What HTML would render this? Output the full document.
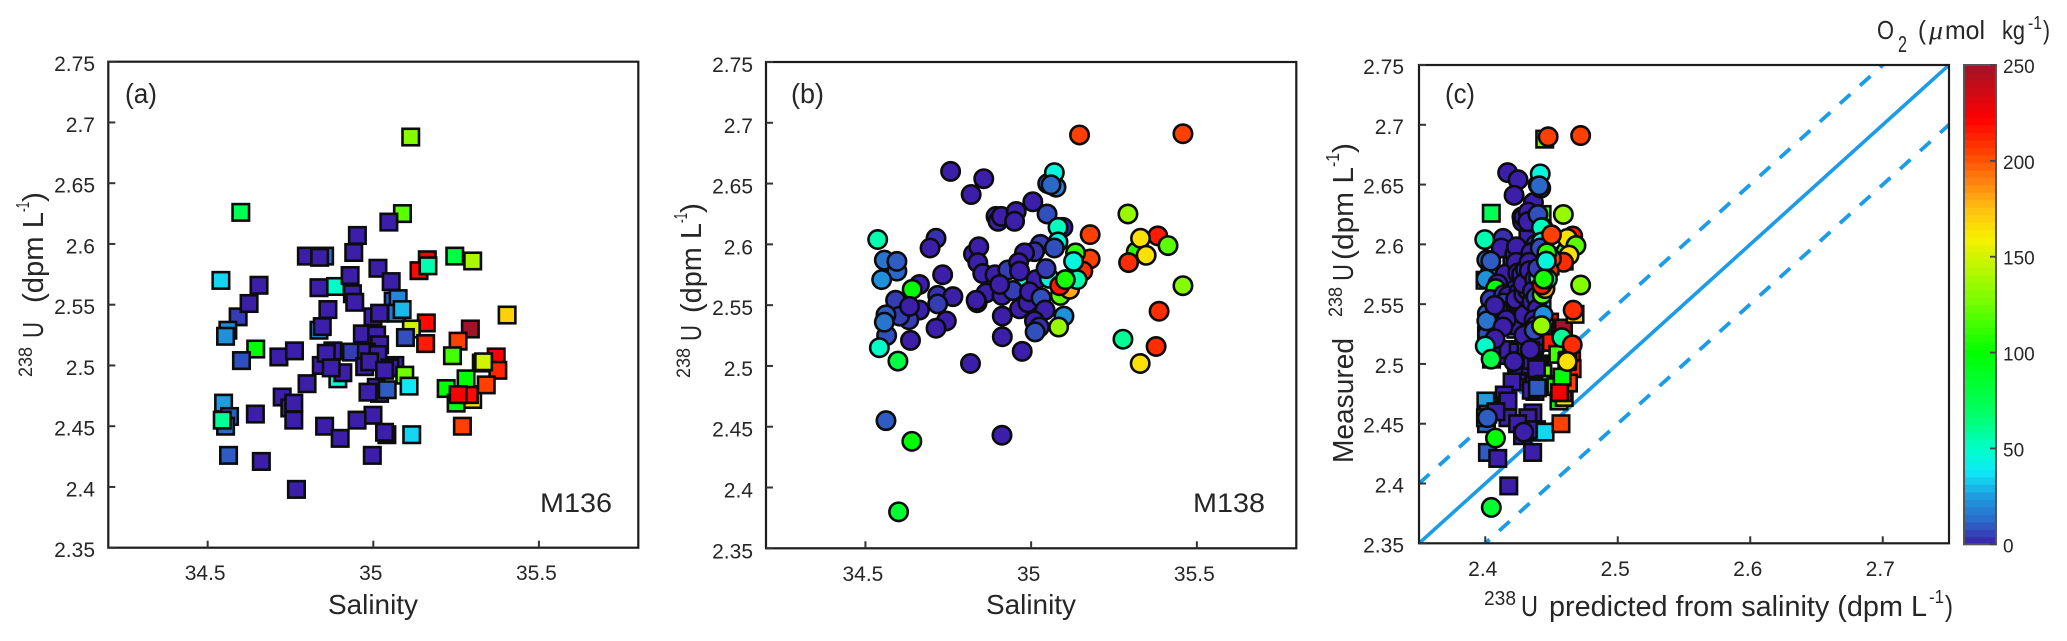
<!DOCTYPE html>
<html lang="en">
<head>
<meta charset="utf-8">
<title>238U versus salinity and oxygen</title>
<style>
html,body{margin:0;padding:0;background:#fff;width:2067px;height:641px;overflow:hidden}
svg{display:block}
text{font-family:"Liberation Sans",sans-serif;fill:#262626}
</style>
</head>
<body>
<svg id="chart" xmlns="http://www.w3.org/2000/svg" width="2067" height="641" viewBox="0 0 2067 641">
  <defs>
    <clipPath id="panel-c-clip"><rect x="1419" y="65" width="530" height="478.3"></rect></clipPath>
  </defs>
  <rect x="0" y="0" width="2067" height="641" fill="#fff"></rect>
  <g id="panel-a"></g>
  <g id="panel-b"></g>
  <g id="panel-c"></g>
  <g id="colorbar"></g>

  <text x="125" y="103" font-size="28" textLength="32" lengthAdjust="spacingAndGlyphs">(a)</text>
  <text x="791" y="103" font-size="28" textLength="33" lengthAdjust="spacingAndGlyphs">(b)</text>
  <text x="1445" y="103" font-size="28" textLength="30" lengthAdjust="spacingAndGlyphs">(c)</text>
  <text x="540" y="512" font-size="27" textLength="72" lengthAdjust="spacingAndGlyphs">M136</text>
  <text x="1193" y="512" font-size="27" textLength="72" lengthAdjust="spacingAndGlyphs">M138</text>

  <text x="328" y="614" font-size="28" textLength="90" lengthAdjust="spacingAndGlyphs">Salinity</text>
  <text x="986" y="614" font-size="28" textLength="90" lengthAdjust="spacingAndGlyphs">Salinity</text>

  <g transform="translate(43,377) rotate(-90)">
    <text x="0" y="-11" font-size="19" textLength="30" lengthAdjust="spacingAndGlyphs">238</text>
    <text x="39" y="0" font-size="29" textLength="16" lengthAdjust="spacingAndGlyphs">U</text>
    <text x="74" y="0" font-size="29" textLength="91" lengthAdjust="spacingAndGlyphs">(dpm L</text>
    <text x="165" y="-14" font-size="18" textLength="10" lengthAdjust="spacingAndGlyphs">-1</text>
    <text x="175" y="0" font-size="29" textLength="10" lengthAdjust="spacingAndGlyphs">)</text>
  </g>
  <g transform="translate(701,378) rotate(-90)">
    <text x="0" y="-11" font-size="19" textLength="30" lengthAdjust="spacingAndGlyphs">238</text>
    <text x="37" y="0" font-size="29" textLength="16" lengthAdjust="spacingAndGlyphs">U</text>
    <text x="65" y="0" font-size="29" textLength="90" lengthAdjust="spacingAndGlyphs">(dpm L</text>
    <text x="155" y="-14" font-size="18" textLength="10" lengthAdjust="spacingAndGlyphs">-1</text>
    <text x="165" y="0" font-size="29" textLength="10" lengthAdjust="spacingAndGlyphs">)</text>
  </g>
  <g transform="translate(1353,463) rotate(-90)">
    <text x="0" y="0" font-size="29" textLength="125" lengthAdjust="spacingAndGlyphs">Measured</text>
    <text x="146" y="-11" font-size="19" textLength="30" lengthAdjust="spacingAndGlyphs">238</text>
    <text x="182" y="0" font-size="29" textLength="17" lengthAdjust="spacingAndGlyphs">U</text>
    <text x="203" y="0" font-size="29" textLength="93" lengthAdjust="spacingAndGlyphs">(dpm L</text>
    <text x="296" y="-14" font-size="18" textLength="14" lengthAdjust="spacingAndGlyphs">-1</text>
    <text x="310" y="0" font-size="29" textLength="10" lengthAdjust="spacingAndGlyphs">)</text>
  </g>
  <g>
    <text x="1484" y="605" font-size="20" textLength="32" lengthAdjust="spacingAndGlyphs">238</text>
    <text x="1521" y="616" font-size="29" textLength="17" lengthAdjust="spacingAndGlyphs">U</text>
    <text x="1549" y="616" font-size="29" textLength="378" lengthAdjust="spacingAndGlyphs">predicted from salinity (dpm L</text>
    <text x="1929" y="603" font-size="18" textLength="15" lengthAdjust="spacingAndGlyphs">-1</text>
    <text x="1945" y="616" font-size="29" textLength="8" lengthAdjust="spacingAndGlyphs">)</text>
  </g>
  <g>
    <text x="1877" y="39" font-size="26" textLength="17" lengthAdjust="spacingAndGlyphs">O</text>
    <text x="1898" y="52" font-size="23" textLength="9" lengthAdjust="spacingAndGlyphs">2</text>
    <text x="1918" y="39" font-size="26" textLength="8" lengthAdjust="spacingAndGlyphs">(</text>
    <text x="1929" y="39" font-size="26" font-style="italic" style="font-family:'Liberation Serif',serif" textLength="14" lengthAdjust="spacingAndGlyphs">μ</text>
    <text x="1945" y="39" font-size="26" textLength="40" lengthAdjust="spacingAndGlyphs">mol</text>
    <text x="2002" y="39" font-size="26" textLength="23" lengthAdjust="spacingAndGlyphs">kg</text>
    <text x="2028" y="29" font-size="18" textLength="14" lengthAdjust="spacingAndGlyphs">-1</text>
    <text x="2043" y="39" font-size="26" textLength="7" lengthAdjust="spacingAndGlyphs">)</text>
  </g>
</svg>

<script>
// Shared tick values and labels
const uraniumTicks = [2.35, 2.4, 2.45, 2.5, 2.55, 2.6, 2.65, 2.7, 2.75];
const uraniumTickLabels = ['2.35', '2.4', '2.45', '2.5', '2.55', '2.6', '2.65', '2.7', '2.75'];
const salinityTicks = [34.5, 35, 35.5];
const salinityTickLabels = ['34.5', '35', '35.5'];
const predictedTicks = [2.4, 2.5, 2.6, 2.7];
const predictedTickLabels = ['2.4', '2.5', '2.6', '2.7'];
const oxygenTicks = [0, 50, 100, 150, 200, 250];
const oxygenTickLabels = ['0', '50', '100', '150', '200', '250'];

// Cruise M136 (squares)
const m136Salinity = [
34.952,34.941,34.853,34.798,34.838,35.088,35.047,34.6,35.113,35.163,
35.138,35.165,35.246,35.30,34.54,34.655,34.592,34.625,34.886,34.836,
34.93,35.014,35.06,35.075,35.054,34.937,34.944,34.863,35.07,35.087,
34.999,35.019,35.16,35.115,35.293,35.256,35.097,35.158,35.239,35.371,
35.376,35.326,35.333,34.645,34.602,34.715,34.762,34.561,34.554,34.836,
34.846,34.967,35.01,35.019,34.893,34.843,34.878,34.858,34.934,34.908,
34.873,34.979,35.014,34.974,34.989,35.065,35.05,35.095,35.034,35.108,
35.009,35.019,34.984,35.042,34.80,34.725,34.748,34.76,34.76,35.22,
35.25,35.30,35.29,35.341,35.28,35.256,34.548,34.566,34.554,34.544,
34.644,34.563,34.662,34.768,34.997,34.999,34.951,34.853,34.90,35.041,
35.034,35.116,35.269,35.404];
const m136Uranium = [
2.607,2.593,2.59,2.59,2.589,2.625,2.618,2.626,2.688,2.587,
2.578,2.582,2.59,2.586,2.57,2.566,2.54,2.551,2.565,2.564,
2.574,2.58,2.553,2.555,2.569,2.559,2.552,2.546,2.543,2.546,
2.54,2.543,2.535,2.53,2.53,2.52,2.523,2.518,2.508,2.507,
2.496,2.502,2.503,2.5135,2.504,2.507,2.512,2.529,2.524,2.529,
2.532,2.526,2.525,2.517,2.489,2.5,2.512,2.51,2.511,2.494,
2.498,2.511,2.509,2.499,2.503,2.5,2.498,2.492,2.496,2.483,
2.482,2.477,2.478,2.48,2.485,2.474,2.465,2.469,2.455,2.481,
2.469,2.472,2.476,2.484,2.489,2.476,2.469,2.458,2.45,2.455,
2.46,2.426,2.421,2.398,2.426,2.459,2.455,2.45,2.44,2.443,
2.445,2.443,2.45,2.5415];
const m136Oxygen = [
0,0,15,0,0,120,0,75,130,225,
220,55,80,140,35,0,5,0,50,0,
0,0,10,20,0,0,0,0,15,30,
0,0,220,150,250,205,8,215,115,225,
212,110,150,100,8,0,0,20,22,22,
0,0,0,0,48,0,0,0,5,0,
0,0,0,0,0,0,0,125,0,38,
0,0,0,10,0,0,0,0,0,100,
95,165,220,205,100,225,25,10,12,60,
0,10,0,0,0,0,0,0,0,0,
0,35,205,170];

// Cruise M138 (circles)
const m138Salinity = [
34.757,34.857,34.819,34.894,34.90,34.91,35.005,34.955,34.95,35.048,
35.146,35.458,35.292,35.382,35.317,35.33,35.413,35.347,35.294,35.458,
35.386,35.277,35.377,35.329,34.562,34.64,34.60,34.912,34.537,34.713,
34.695,34.557,34.595,34.595,34.549,34.733,34.663,34.641,34.591,34.718,
34.764,34.718,34.663,34.631,34.603,34.562,34.564,34.557,34.744,34.713,
34.636,34.542,34.598,34.633,34.826,34.842,34.839,34.854,34.891,34.93,
34.985,34.864,34.837,34.834,34.912,34.945,34.905,34.965,34.913,34.913,
34.973,34.817,35.028,35.01,34.98,34.962,34.965,35.015,34.99,34.995,
35.03,35.042,35.01,35.025,35.012,35.099,35.083,35.096,35.081,35.075,
35.05,35.07,35.06,35.081,35.07,35.055,35.045,35.178,35.178,35.134,
35.156,35.128,35.088,35.116,35.086,35.139,35.103];
const m138Uranium = [
2.66,2.654,2.641,2.623,2.619,2.623,2.635,2.627,2.619,2.625,
2.69,2.691,2.625,2.607,2.594,2.605,2.599,2.591,2.585,2.566,
2.545,2.522,2.516,2.502,2.455,2.438,2.38,2.443,2.604,2.605,
2.597,2.587,2.578,2.586,2.571,2.575,2.567,2.563,2.554,2.558,
2.557,2.551,2.546,2.538,2.541,2.542,2.525,2.536,2.537,2.531,
2.521,2.515,2.504,2.549,2.592,2.598,2.585,2.576,2.575,2.579,
2.568,2.56,2.552,2.554,2.558,2.562,2.567,2.547,2.541,2.524,
2.512,2.502,2.6,2.594,2.593,2.585,2.578,2.571,2.552,2.561,
2.556,2.546,2.537,2.532,2.528,2.541,2.532,2.614,2.614,2.647,
2.65,2.659,2.649,2.602,2.597,2.572,2.58,2.608,2.588,2.593,
2.578,2.586,2.558,2.563,2.566,2.571,2.571];
const m138Oxygen = [
0,0,0,0,0,0,0,0,0,8,
205,205,135,215,110,165,120,165,210,130,
210,60,210,165,10,100,85,0,55,3,
0,15,12,10,22,0,0,100,5,3,
0,5,0,5,5,10,8,15,0,0,
0,50,80,0,0,0,0,0,0,5,
45,0,0,0,0,5,0,0,0,0,
0,0,5,3,0,0,0,0,0,0,
8,0,0,3,8,22,135,0,52,20,
10,45,12,45,8,45,5,205,205,110,
210,45,120,180,215,55,105];

// Salinity-to-uranium relation behind panel (c), plus the 1:1 line and its offsets
const predictedSlope = 0.0786;
const predictedIntercept = -0.315;
const referenceOffsets = [0, 0.05, -0.05];

// Oxygen colour scale
const oxygenStops = [0, 12, 25, 38, 50, 70, 100, 125, 160, 175, 190, 205, 222, 250];
const oxygenColors = ['#3b1fa8', '#2c68c8', '#1e9ce0', '#10e8f8', '#00ffc8', '#00ff60', '#00ff00', '#70ff00', '#f8f000', '#ffc010', '#ff8010', '#ff4000', '#ff0000', '#a01428'];

const SVG_NS = 'http://www.w3.org/2000/svg';

function make(tag, parent, props) {
  const node = document.createElementNS(SVG_NS, tag);
  for (const key in props) node.setAttribute(key, props[key]);
  parent.appendChild(node);
  return node;
}

function hexToRgb(hex) {
  return [1, 3, 5].map(function (i) { return parseInt(hex.substr(i, 2), 16); });
}

function oxygenColor(value) {
  const v = Math.max(oxygenStops[0], Math.min(oxygenStops[oxygenStops.length - 1], value));
  for (let i = 1; i < oxygenStops.length; i++) {
    if (v <= oxygenStops[i]) {
      const t = (v - oxygenStops[i - 1]) / (oxygenStops[i] - oxygenStops[i - 1]);
      const a = hexToRgb(oxygenColors[i - 1]);
      const b = hexToRgb(oxygenColors[i]);
      return 'rgb(' + a.map(function (c, k) { return Math.round(c + (b[k] - c) * t); }).join(',') + ')';
    }
  }
  return oxygenColors[oxygenColors.length - 1];
}

function makeAxes(left, right, top, bottom, xMin, xMax, yMin, yMax) {
  return {
    left: left, right: right, top: top, bottom: bottom,
    x: function (v) { return left + (v - xMin) / (xMax - xMin) * (right - left); },
    y: function (v) { return bottom - (v - yMin) / (yMax - yMin) * (bottom - top); }
  };
}

function drawFrame(group, axes, xTicks, xLabels, yTicks, yLabels, labelRight, xLabelBaseline, yLabelShift) {
  const frame = make('rect', group, {
    x: axes.left, y: axes.top, width: axes.right - axes.left, height: axes.bottom - axes.top,
    fill: 'none', stroke: '#1c1c1c', 'stroke-width': 2.2
  });
  
  

  yTicks.forEach(function (value, i) {
    const tick = make('line', group, {
      x1: axes.left, x2: axes.left + 7, y1: axes.y(value), y2: axes.y(value),
      stroke: '#333', 'stroke-width': 2
    });
    
    
    const label = make('text', group, {
      x: labelRight, y: axes.y(value) + yLabelShift, 'font-size': 21, 'text-anchor': 'end'
    });
    label.textContent = yLabels[i];
    
    
  });

  xTicks.forEach(function (value, i) {
    const tick = make('line', group, {
      x1: axes.x(value), x2: axes.x(value), y1: axes.bottom, y2: axes.bottom - 7,
      stroke: '#333', 'stroke-width': 2
    });
    
    
    const label = make('text', group, {
      x: axes.x(value) - 2.5, y: xLabelBaseline, 'font-size': 21, 'text-anchor': 'middle'
    });
    label.textContent = xLabels[i];
    
    
  });
}

function drawSquare(group, cx, cy, oxygen) {
  const side = 16.5;
  const mark = make('rect', group, {
    x: cx - side / 2, y: cy - side / 2, width: side, height: side,
    fill: oxygenColor(oxygen), stroke: '#0c0c0c', 'stroke-width': 2.6
  });
  
  
}

function drawCircle(group, cx, cy, oxygen) {
  const mark = make('circle', group, {
    cx: cx, cy: cy, r: 9.2, fill: oxygenColor(oxygen), stroke: '#0c0c0c', 'stroke-width': 2.6
  });
  
  
}

function predictedFromSalinity(salinity) {
  return predictedSlope * salinity + predictedIntercept;
}

// Panel (a)
const panelA = document.getElementById('panel-a');
const axesA = makeAxes(108.3, 638.3, 61.7, 547.7, 34.2, 35.8, 2.35, 2.75);
drawFrame(panelA, axesA, salinityTicks, salinityTickLabels, uraniumTicks, uraniumTickLabels, 95, 580, 9.5);
m136Salinity.forEach(function (s, i) {
  drawSquare(panelA, axesA.x(s), axesA.y(m136Uranium[i]), m136Oxygen[i]);
});

// Panel (b)
const panelB = document.getElementById('panel-b');
const axesB = makeAxes(766, 1296.3, 62, 548.3, 34.2, 35.8, 2.35, 2.75);
drawFrame(panelB, axesB, salinityTicks, salinityTickLabels, uraniumTicks, uraniumTickLabels, 753, 581, 10);
m138Salinity.forEach(function (s, i) {
  drawCircle(panelB, axesB.x(s), axesB.y(m138Uranium[i]), m138Oxygen[i]);
});

// Panel (c)
const panelC = document.getElementById('panel-c');
const axesC = makeAxes(1419, 1949, 65, 543.3, 2.35, 2.75, 2.35, 2.75);
const referenceGroup = make('g', panelC, { 'clip-path': 'url(#panel-c-clip)' });


referenceOffsets.forEach(function (offset) {
  const line = make('line', referenceGroup, {
    x1: axesC.x(2.35), y1: axesC.y(2.35 + offset),
    x2: axesC.x(2.75), y2: axesC.y(2.75 + offset),
    stroke: '#1b9be8', 'stroke-width': offset === 0 ? 3.6 : 3.8
  });
  if (offset !== 0) line.setAttribute('stroke-dasharray', '14 13');
  
  
});
drawFrame(panelC, axesC, predictedTicks, predictedTickLabels, uraniumTicks, uraniumTickLabels, 1404, 576, 9);
m136Salinity.forEach(function (s, i) {
  drawSquare(panelC, axesC.x(predictedFromSalinity(s)), axesC.y(m136Uranium[i]), m136Oxygen[i]);
});
m138Salinity.forEach(function (s, i) {
  drawCircle(panelC, axesC.x(predictedFromSalinity(s)), axesC.y(m138Uranium[i]), m138Oxygen[i]);
});

// Colour bar
const colorbar = document.getElementById('colorbar');
const barLeft = 1964, barRight = 1996, barTop = 65, barBottom = 544.3;
const barMax = oxygenTicks[oxygenTicks.length - 1];
const barY = function (v) { return barBottom - v / barMax * (barBottom - barTop); };
const barLevels = 64;
for (let level = 0; level < barLevels; level++) {
  const low = level / barLevels * barMax;
  const high = (level + 1) / barLevels * barMax;
  const swatch = make('rect', colorbar, {
    x: barLeft, y: barY(high), width: barRight - barLeft, height: barY(low) - barY(high) + 0.5,
    fill: oxygenColor((low + high) / 2)
  });
  
  
}
const barFrame = make('rect', colorbar, {
  x: barLeft, y: barTop, width: barRight - barLeft, height: barBottom - barTop,
  fill: 'none', stroke: '#555', 'stroke-width': 2
});


oxygenTicks.forEach(function (value, i) {
  const tick = make('line', colorbar, {
    x1: barRight - 6, x2: barRight, y1: barY(value), y2: barY(value), stroke: '#444', 'stroke-width': 1.8
  });
  
  
  const label = make('text', colorbar, { x: 2003, y: barY(value) + 8, 'font-size': 19 });
  label.textContent = oxygenTickLabels[i];
  
  
});
</script>
</body>
</html>
